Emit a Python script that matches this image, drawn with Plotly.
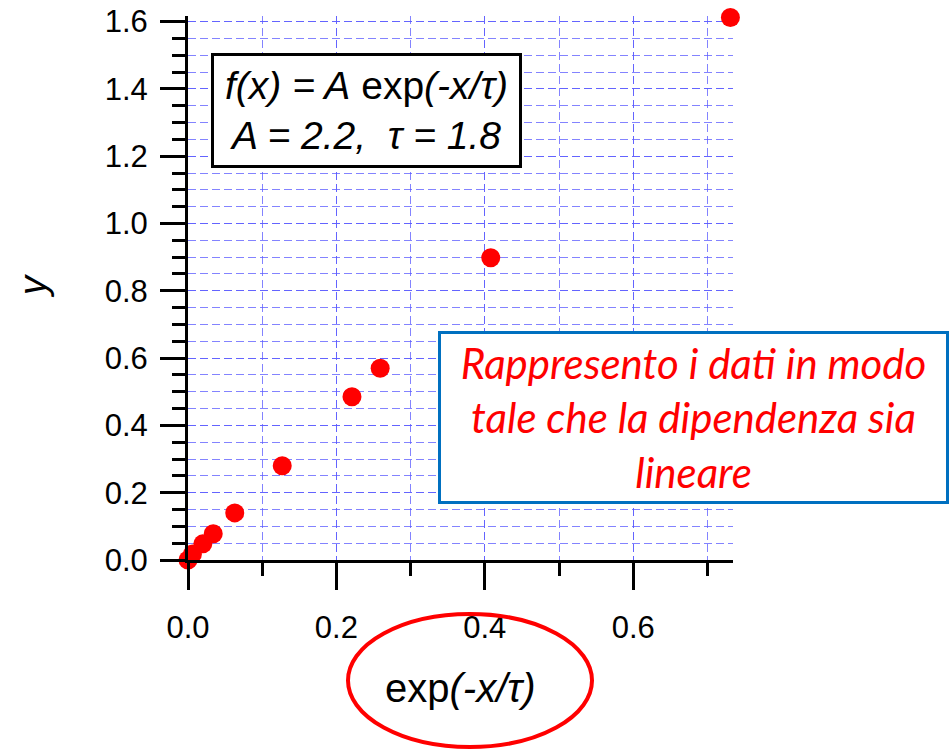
import plotly.graph_objects as go

# Data
x_vals = [0.0, 0.006, 0.020, 0.034, 0.063, 0.127, 0.221, 0.259, 0.408, 0.731]
y_vals = [0.0, 0.018, 0.048, 0.078, 0.140, 0.280, 0.485, 0.570, 0.898, 1.612]

x_ticks = [0.0, 0.2, 0.4, 0.6]
y_ticks = [0.0, 0.2, 0.4, 0.6, 0.8, 1.0, 1.2, 1.4, 1.6]

W, H = 952, 752
L, R, T, B = 188, 219, 16, 192
PW, PH = W - L - R, H - T - B


def px(xp):
    return (xp - L) / PW


def py(yp):
    return (H - B - yp) / PH


grid_col = "rgba(90,90,255,0.75)"
grid_dash = "8px,4px"
font_main = "Arial, Liberation Sans, sans-serif"

fig = go.Figure()
fig.add_trace(go.Scatter(
    x=x_vals, y=y_vals, mode="markers",
    marker=dict(color="#ff0000", size=19, line=dict(width=0)),
    cliponaxis=False, showlegend=False,
))

fig.update_layout(
    width=W, height=H,
    margin=dict(l=L, r=R, t=T, b=B, pad=0, autoexpand=False),
    paper_bgcolor="white", plot_bgcolor="white",
    font=dict(family=font_main, size=31, color="black"),
    xaxis=dict(
        range=[0, PW / 742.0], automargin=False,
        tickvals=x_ticks, tickformat=".1f",
        ticks="outside", ticklen=27, tickwidth=3, tickcolor="black",
        showline=True, linewidth=3, linecolor="black",
        showgrid=True, gridcolor=grid_col, gridwidth=1, griddash=grid_dash,
        zeroline=False, ticklabelstandoff=11,
        minor=dict(dtick=0.1, ticks="outside", ticklen=13, tickwidth=3, tickcolor="black",
                   showgrid=True, gridcolor=grid_col, gridwidth=1, griddash=grid_dash),
    ),
    yaxis=dict(
        range=[0, PH / 336.5], automargin=False,
        tickvals=y_ticks, tickformat=".1f",
        ticks="outside", ticklen=25, tickwidth=3, tickcolor="black",
        showline=True, linewidth=3, linecolor="black",
        showgrid=True, gridcolor=grid_col, gridwidth=1, griddash=grid_dash,
        zeroline=False, ticklabelstandoff=6,
        minor=dict(dtick=0.05, ticks="outside", ticklen=13, tickwidth=3, tickcolor="black",
                   showgrid=True, gridcolor=grid_col, gridwidth=1, griddash=grid_dash),
    ),
)

annotations = [
    # y axis title
    dict(text="<i>y</i>", x=px(33), y=py(286), xref="paper", yref="paper",
         showarrow=False, textangle=-90, font=dict(size=38, family=font_main),
         xanchor="center", yanchor="middle"),
    # x axis title
    dict(text="exp<i>(-x/τ)</i>", x=px(460), y=py(688), xref="paper", yref="paper",
         showarrow=False, font=dict(size=40, family=font_main),
         xanchor="center", yanchor="middle"),
    # formula box
    dict(text="<i>f(x) = A</i> exp<i>(-x/τ)</i><br><i>A = 2.2,  τ = 1.8</i>",
         x=px(366.5), y=py(110.5), xref="paper", yref="paper",
         showarrow=False, font=dict(size=39, family=font_main),
         xanchor="center", yanchor="middle", align="center",
         width=305, height=109, borderpad=0,
         bordercolor="black", borderwidth=3, bgcolor="white"),
    # red comment box
    dict(text="<i>Rappresento i dati in modo<br>tale che la dipendenza sia<br>lineare</i>",
         x=px(693.5), y=py(417.5), xref="paper", yref="paper",
         showarrow=False, font=dict(size=42, family="Lato, sans-serif", color="#ff0000"),
         xanchor="center", yanchor="middle", align="center",
         width=505, height=167, borderpad=0,
         bordercolor="#0070c0", borderwidth=3, bgcolor="white"),
]
fig.update_layout(annotations=annotations)

fig.add_shape(type="circle", xref="paper", yref="paper",
              x0=px(348), x1=px(592), y0=py(747), y1=py(614),
              line=dict(color="#ff0000", width=4), layer="above")

fig.write_html("out.html")
